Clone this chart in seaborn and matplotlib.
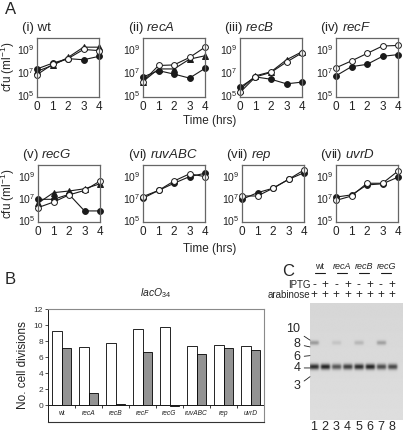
import numpy as np
import pandas as pd
import matplotlib
matplotlib.use('Agg')
import matplotlib.pyplot as plt
import seaborn as sns
from matplotlib.ticker import FixedLocator, LogFormatterSciNotation, NullLocator

sns.set_theme(style='white')
plt.rcParams['font.family'] = ['Liberation Sans', 'DejaVu Sans']
plt.rcParams['mathtext.fontset'] = 'custom'
plt.rcParams['mathtext.rm'] = 'Liberation Sans'
plt.rcParams['mathtext.it'] = 'Liberation Sans:italic'
plt.rcParams['mathtext.bf'] = 'Liberation Sans:bold'

# ---- Panel A data: log10 cfu/ml at each hour ----
hours = [0, 1, 2, 3, 4]
strains_a = ['wt', 'recA', 'recB', 'recF', 'recG', 'ruvABC', 'rep', 'uvrD']
numerals = ['(i)', '(ii)', '(iii)', '(iv)', '(v)', '(vi)', '(vii)', '(vii)']

wt_open = [6.8, 7.7, 8.2, 9.0, 8.9]
wt_filled = [7.3, 7.8, 8.2, 8.1, 8.4]
wt_tri = [7.1, 7.6, 8.3, 9.2, 9.2]
recA_open = [6.2, 7.6, 7.65, 8.3, 9.2]
recA_filled = [6.6, 7.15, 6.85, 6.5, 7.35]
recA_tri = [6.2, 7.3, 7.3, 8.15, 8.45]
recB_open = [5.25, 6.6, 7.0, 7.9, 8.7]
recB_filled = [5.7, 6.6, 6.4, 6.0, 6.15]
recB_tri = [5.5, 6.7, 7.05, 8.1, 8.8]
recF_open = [7.4, 8.0, 8.65, 9.3, 9.35]
recF_filled = [6.7, 7.5, 7.7, 8.4, 8.55]
recG_open = [6.15, 6.65, 7.3, 7.7, 8.55]
recG_filled = [6.9, 6.9, 7.35, 5.85, 5.85]
recG_tri = [6.55, 7.5, 7.65, 7.85, 8.3]
ruvABC_open = [7.15, 7.7, 8.55, 9.2, 8.95]
ruvABC_filled = [7.0, 7.7, 8.35, 8.95, 9.25]
rep_open = [7.2, 7.2, 7.9, 8.7, 9.55]
rep_filled = [6.9, 7.5, 7.9, 8.7, 9.3]
uvrD_open = [6.8, 7.2, 8.35, 8.35, 9.45]
uvrD_filled = [7.1, 7.3, 8.2, 8.3, 8.9]

series_a = {
    'wt': [wt_filled, wt_tri, wt_open],
    'recA': [recA_filled, recA_tri, recA_open],
    'recB': [recB_filled, recB_tri, recB_open],
    'recF': [recF_filled, None, recF_open],
    'recG': [recG_filled, recG_tri, recG_open],
    'ruvABC': [ruvABC_filled, None, ruvABC_open],
    'rep': [rep_filled, None, rep_open],
    'uvrD': [uvrD_filled, None, uvrD_open],
}

# ---- Panel B data ----
strains_b = ['wt', 'recA', 'recB', 'recF', 'recG', 'ruvABC', 'rep', 'uvrD']
div_white = [9.2, 7.2, 7.8, 9.5, 9.7, 7.4, 7.5, 7.35]
div_gray = [7.1, 1.5, 0.1, 6.6, -0.1, 6.4, 7.15, 6.9]

# ---- Panel C data (gel) ----
lanes = [1, 2, 3, 4, 5, 6, 7, 8]
gel_strains = ['wt', 'recA', 'recB', 'recG']
iptg = ['-', '+', '-', '+', '-', '+', '-', '+']
arabinose = ['+'] * 8
main_band_kb = 4.1
main_band = [0.95, 1.0, 0.72, 0.85, 0.95, 1.0, 0.78, 0.8]
upper_band_kb = 9.0
upper_band = [0.55, 0.0, 0.18, 0.0, 0.3, 0.0, 0.5, 0.0]
marker_kb = [10, 8, 6, 4, 3]

W, H = 403, 434
fig = plt.figure(figsize=(W / 100, H / 100), dpi=100)


def px_axes(x0, y0, x1, y1):
    return fig.add_axes([x0 / W, 1 - y1 / H, (x1 - x0) / W, (y1 - y0) / H])


# ---------------- Panel A ----------------
rows = [(38, 97), (165, 222)]
lefts = [[37, 143, 240, 336], [38, 143, 242, 336]]
styles = [dict(marker='o', mfc='k'), dict(marker='^', mfc='k'), dict(marker='o', mfc='white')]

for i, strain in enumerate(strains_a):
    r, c = divmod(i, 4)
    ax = px_axes(lefts[r][c], rows[r][0], lefts[r][c] + 62, rows[r][1])
    for vals, st in zip(series_a[strain], styles):
        if vals is None:
            continue
        sns.lineplot(x=hours, y=10 ** np.array(vals), ax=ax, color='k', lw=0.8,
                     markersize=4.2, mec='k', mew=0.7, clip_on=False, **st)
    ax.set_yscale('log')
    ax.set_ylim(10 ** 4.85, 10 ** 10)
    ax.set_xlim(0, 4)
    ax.set_xticks(hours)
    ax.yaxis.set_major_locator(FixedLocator([1e5, 1e7, 1e9]))
    ax.yaxis.set_major_formatter(LogFormatterSciNotation())
    ax.yaxis.set_minor_locator(NullLocator())
    ax.tick_params(length=0, pad=2, colors='#222')
    ax.tick_params(axis='x', labelsize=8.5, pad=3)
    ax.tick_params(axis='y', labelsize=7.5)
    for s in ax.spines.values():
        s.set_color('#666')
        s.set_linewidth(0.9)
    ax.set_xlabel('')
    ax.set_ylabel('')
    name = strain if strain == 'wt' else r'$\mathit{' + strain + '}$'
    ax.set_title(numerals[i] + ' ' + name, fontsize=9.5, loc='left', x=-0.25, pad=5)

for yc in [67, 194]:
    fig.text(8 / W, 1 - yc / H, r'cfu (ml$^{-1}$)', rotation=90, ha='center', va='center', fontsize=8.5)
for yc in [121, 249]:
    fig.text(210 / W, 1 - yc / H, 'Time (hrs)', ha='center', va='center', fontsize=8.5)

# ---------------- Panel B ----------------
axb = px_axes(48, 309, 264, 422)
df_b = pd.DataFrame({
    'strain': strains_b * 2,
    'divisions': div_white + div_gray,
    'cond': ['a'] * 8 + ['b'] * 8,
})
sns.barplot(data=df_b, x='strain', y='divisions', hue='cond', palette=['white', '#939393'],
            edgecolor='black', linewidth=0.6, width=0.74, saturation=1, legend=False, ax=axb)
axb.set_xlim(-0.5, 7.5)
axb.set_ylim(-2.1, 12)
axb.set_yticks(range(0, 13, 2))
axb.set_xticks([])
axb.set_xlabel('')
axb.set_ylabel('No. cell divisions', fontsize=8.5, labelpad=3, color='#222')
axb.tick_params(axis='y', length=2, width=0.6, direction='out', labelsize=6, pad=1.5, colors='#333', left=True)
axb.axhline(0, color='k', lw=0.7)
idx = np.arange(len(strains_b))
axb.vlines(idx[:-1] + 0.5, -0.35, 0, color='k', lw=0.6)
for k, s in enumerate(strains_b):
    axb.text(k, -1.05, s, ha='center', va='center', fontsize=4.8,
             style='normal' if s == 'wt' else 'italic', color='#222')
axb.spines['left'].set_color('k')
axb.spines['left'].set_linewidth(0.7)
for side in ['top', 'right']:
    axb.spines[side].set_color('#8a8a8a')
    axb.spines[side].set_linewidth(0.8)
axb.spines['bottom'].set_color('#333')
axb.spines['bottom'].set_linewidth(0.8)
axb.set_title(r'$\mathit{lacO}_{\mathit{34}}$', fontsize=7.5, pad=9, color='#222')

# ---------------- Panel C (gel) ----------------
axc = px_axes(310, 303, 402, 420)
ylo, yhi = np.log10(0.72), np.log10(34)
x_lo, x_hi = 0.64, 8.9
gx = np.linspace(x_lo, x_hi, 240)
gy = np.linspace(yhi, ylo, 300)
GX, GY = np.meshgrid(gx, gy)
img = np.full(GX.shape, 0.87) - 0.03 * (GY - ylo) / (yhi - ylo)
for ln, a_main, a_up in zip(lanes, main_band, upper_band):
    px_prof = 1 / (1 + np.exp((np.abs(GX - ln) - 0.4) / 0.05))
    img -= 0.72 * a_main * px_prof * np.exp(-0.5 * ((GY - np.log10(main_band_kb)) / 0.028) ** 2)
    img -= 0.45 * a_up * px_prof * np.exp(-0.5 * ((GY - np.log10(upper_band_kb)) / 0.022) ** 2)
axc.imshow(img, cmap='gray', vmin=0, vmax=1, aspect='auto', extent=[x_lo, x_hi, ylo, yhi],
           interpolation='bilinear')
axc.set_xlim(x_lo, x_hi)
axc.set_ylim(ylo, yhi)
axc.set_xticks([])
axc.set_yticks([])
for s in axc.spines.values():
    s.set_visible(False)

label_dy = [8, 2, -1, 0, -7]
for kb, dy in zip(marker_kb, label_dy):
    axc.annotate(str(kb), xy=(0, np.log10(kb)), xycoords=('axes fraction', 'data'),
                 xytext=(-7, dy), textcoords='offset points', ha='right', va='center',
                 fontsize=9, annotation_clip=False,
                 arrowprops=dict(arrowstyle='-', lw=0.6, color='k', shrinkA=0.5, shrinkB=0))

xt = axc.get_xaxis_transform()
for ln in lanes:
    axc.text(ln, -0.06, str(ln), transform=xt, ha='center', va='center', fontsize=9)
for ln, s1, s2 in zip(lanes, iptg, arabinose):
    axc.text(ln, 1.155, s1, transform=xt, ha='center', va='center', fontsize=8.5)
    axc.text(ln, 1.065, s2, transform=xt, ha='center', va='center', fontsize=8.5)
axc.text(x_lo + 0.05, 1.155, 'IPTG', transform=xt, ha='right', va='center', fontsize=7)
axc.text(x_lo + 0.05, 1.065, 'arabinose', transform=xt, ha='right', va='center', fontsize=7)
for k, s in enumerate(gel_strains):
    xc = (lanes[2 * k] + lanes[2 * k + 1]) / 2
    axc.text(xc, 1.31, s, transform=xt, ha='center', va='center', fontsize=6.5,
             style='normal' if s == 'wt' else 'italic')
    axc.plot([xc - 0.45, xc + 0.45], [1.255, 1.255], color='k', lw=0.8,
             transform=xt, clip_on=False)

# panel letters
fig.text(5 / W, 1 - 9 / H, 'A', fontsize=12, va='center')
fig.text(5 / W, 1 - 280 / H, 'B', fontsize=12, va='center')
fig.text(282 / W, 1 - 271 / H, 'C', fontsize=12, va='center')

fig.savefig('out.png', dpi=100)
